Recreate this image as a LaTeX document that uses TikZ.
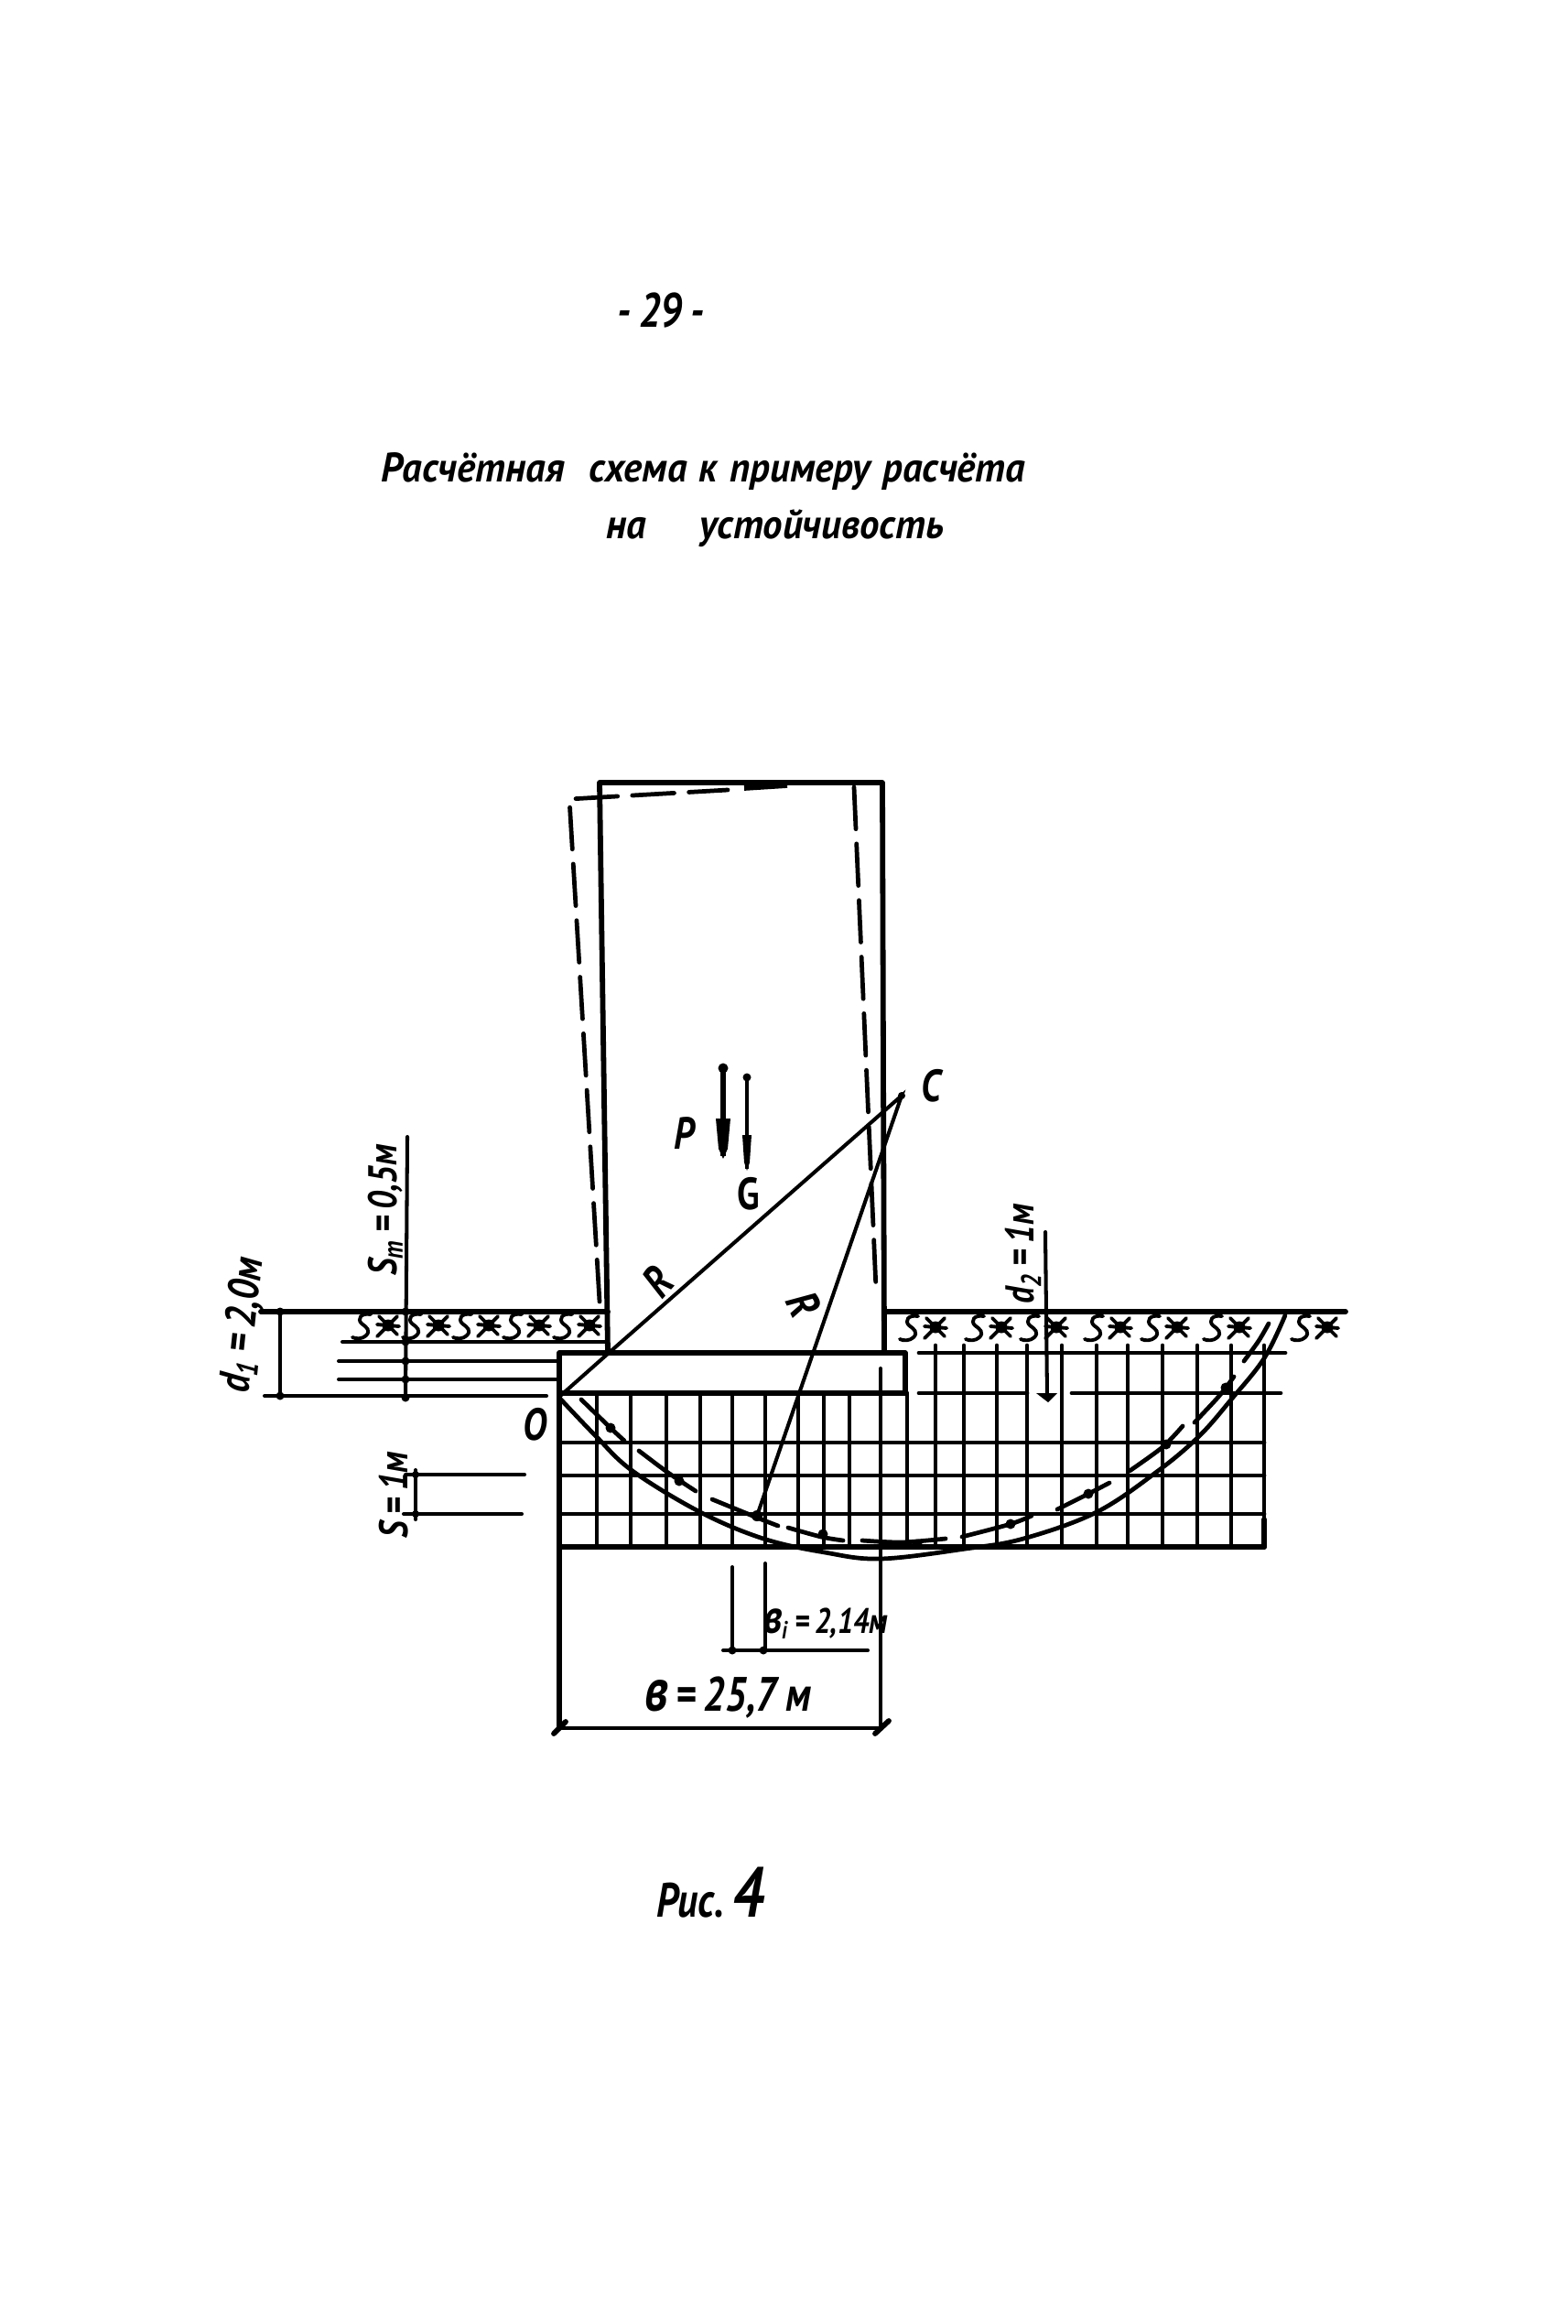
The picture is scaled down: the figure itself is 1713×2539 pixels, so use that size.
\documentclass[tikz,border=0pt]{standalone}
\usepackage{fontspec}
\setmainfont{PT Sans}
\newfontfamily\hand{PT Sans}[FakeStretch=0.82]
\newfontfamily\handwide{PT Sans}[FakeStretch=0.95]
\tikzset{
  x=0.01cm,y=-0.01cm,
  wall/.style={line width=1.65pt,line cap=round,line join=round},
  grid line/.style={line width=1.35pt,line cap=round},
  dim/.style={line width=1.15pt,line cap=round},
  moved/.style={line width=1.35pt,line cap=round,dash pattern=on 13pt off 4.6pt},
  slip/.style={line width=1.35pt,line cap=round},
  lbl/.style={font=\hand\bfseries\itshape\fontsize{12.5}{14}\selectfont,inner sep=0pt,text=black},
  title/.style={font=\handwide\bfseries\itshape\fontsize{12.8}{14}\selectfont,inner sep=0pt,anchor=base west},
  soil/.pic={
    \draw[line width=1.1pt,line cap=round] (13,-14) .. controls (2,-16) and (-2,-9) .. (3,-4) .. controls (9,0) and (13,4) .. (8,9) .. controls (4,13) and (-3,13) .. (-7,11);
    \fill (32,-2) circle (6.5);
    \draw[line width=1.1pt,line cap=round] (20,10) -- (42,-12) (22,-12) -- (42,8) (20,-3) -- (44,-1);
  }
}
\newcommand{\slipseg}[3]{\draw[slip] plot[smooth] coordinates {#1 #2 #3};}
\begin{document}
\begin{tikzpicture}
\useasboundingbox (0,0) rectangle (1713,2539);
\fill[white] (0,0) rectangle (1713,2539);
% named points
\coordinate (WTL) at (655,855); \coordinate (WTR) at (964,855);
\coordinate (WBL) at (664,1478); \coordinate (WBR) at (966,1478);
\coordinate (O) at (611,1526); \coordinate (F) at (664,1479);
\coordinate (C) at (985,1197); \coordinate (Q) at (827,1656);
\coordinate (FTL) at (611,1478); \coordinate (FTR) at (989,1478);
\coordinate (FBL) at (611,1522); \coordinate (FBR) at (989,1522);
% wall
\draw[wall] (WBL) -- (WTL) -- (WTR) -- (WBR);
\draw[line width=2.2pt] (813,860) -- (860,857);
% displaced wall
\draw[moved] (655,1422) -- (622,873) -- (795,863);
\draw[moved] (933,860) -- (957,1408);
% soil surface
\draw[wall] (285,1433) -- (664,1433);
\draw[wall] (966,1433) -- (1470,1433);
\draw[dim] (374,1466) -- (662,1466);
\foreach \p in {392,447,502,557,612} \pic at (\p,1450) {soil};
\foreach \p in {990,1062,1122,1192,1254,1322,1418} \pic at (\p,1452) {soil};
% footing
\draw[wall] (FBL) -- (FTL) -- (FTR) -- (FBR) -- cycle;
% grid
\foreach \x in {652,689,728,765,800,836,872,900,928}
  \draw[grid line] (\x,1522) -- (\x,1690);
\draw[grid line] (991,1522) -- (991,1690);
\foreach \x in {1022,1053,1089,1122,1160,1198,1232,1270,1308,1345,1381}
  \draw[grid line] (\x,1470) -- (\x,1690);
\foreach \y in {1576,1612,1654}
  \draw[grid line] (611,\y) -- (1381,\y);
\draw[wall] (611,1690) -- (1381,1690);
\draw[wall] (1381,1690) -- (1381,1660);
\draw[grid line] (1004,1478) -- (1404,1478);
\draw[grid line] (1004,1522) -- (1122,1522);
\draw[grid line] (1171,1522) -- (1399,1522);
% left dimension lines
\draw[dim] (306,1433) -- (306,1525);
\draw[dim] (289,1525) -- (597,1525);
\draw[dim] (370,1487) -- (611,1487);
\draw[dim] (370,1507) -- (611,1507);
\draw[dim] (445,1242) -- (443,1529);
\foreach \q in {(306,1433),(306,1525),(443,1433),(443,1466),(443,1487),(443,1507),(443,1527)} \fill \q circle (4.5);
% s = 1 m
\draw[dim] (443,1611) -- (573,1611);
\draw[dim] (441,1654) -- (570,1654);
\draw[dim] (454,1606) -- (454,1660);
\fill (454,1611) circle (4) (454,1654) circle (4);
% d2
\draw[dim] (1142,1346) -- (1144,1526);
\fill (1132,1522) -- (1155,1522) -- (1145,1532) -- cycle;
% width dimensions
\draw[dim] (962,1495) -- (962,1888);
\draw[wall] (611,1522) -- (611,1888);
\draw[dim] (611,1888) -- (962,1888);
\draw[wall] (605,1894) -- (618,1881);
\draw[wall] (956,1894) -- (971,1880);
\draw[dim] (800,1712) -- (800,1803);
\draw[dim] (836,1708) -- (836,1803);
\draw[dim] (790,1803) -- (948,1803);
\fill (800,1803) circle (4.5) (834,1803) circle (4.5);
% radii
\draw[dim] (O) -- (F) -- (C) -- (Q);
\fill (C) circle (4);
\fill (Q) circle (6);
% slip circle, solid
\draw[slip] plot[smooth,tension=0.6] coordinates {(611,1527) (651,1569) (691,1607) (765,1652) (834,1681) (901,1696) (962,1703) (1055,1692) (1118,1681) (1198,1652) (1265,1607) (1310,1569) (1345,1529) (1381,1484) (1404,1437)};
% slip circle, displaced (broken)
\slipseg{(635,1529)}{(667,1560)}{(682,1574)}
\slipseg{(698,1585)}{(730,1609)}{(760,1629)}
\slipseg{(778,1638)}{(827,1658)}{(850,1667)}
\slipseg{(861,1669)}{(897,1679)}{(921,1683)}
\slipseg{(942,1683)}{(985,1685)}{(1033,1681)}
\slipseg{(1051,1679)}{(1104,1665)}{(1127,1656)}
\slipseg{(1155,1649)}{(1189,1632)}{(1212,1620)}
\slipseg{(1234,1607)}{(1270,1581)}{(1292,1558)}
\slipseg{(1305,1554)}{(1332,1525)}{(1348,1504)}
\slipseg{(1359,1487)}{(1375,1465)}{(1386,1446)}
\foreach \q in {(667,1560),(742,1618),(899,1676),(1002,1687),(1104,1665),(1189,1632),(1274,1578),(1339,1516)} \fill \q circle (5.5);
% forces
\coordinate (Ps) at (790,1167); \coordinate (Pe) at (790,1263);
\coordinate (Gs) at (816,1177); \coordinate (Ge) at (816,1277);
\draw[line width=1.8pt] (Ps) -- (Pe);
\fill (Ps) circle (5.5);
\fill (782,1222) -- (798,1222) -- (795,1255) -- (790,1266) -- (785,1255) -- cycle;
\draw[line width=1.3pt] (Gs) -- (Ge);
\fill (Gs) circle (4.5);
\fill (811,1240) -- (821,1240) -- (819,1270) -- (816,1279) -- (813,1270) -- cycle;
% labels
\node[lbl] (page) at (722,339) {\fontsize{15}{17}\selectfont -\,29\,-};
\node[title] (t1) at (416,526) {Расчётная\hspace{0.6em}схема\hspace{0.3em}к\hspace{0.3em}примеру\hspace{0.3em}расчёта};
\node[title] (t2) at (662,588) {на\hspace{1.3em}устойчивость};
\node[lbl] (lP) at (748,1238) {\fontsize{14}{16}\selectfont P};
\node[lbl,font=\hand\bfseries\fontsize{14}{16}\selectfont] (lG) at (818,1304) {G};
\node[lbl] (lC) at (1017,1186) {\fontsize{14}{16}\selectfont C};
\node[lbl,rotate=48] (lR1) at (718,1400) {\fontsize{14}{16}\selectfont R};
\node[lbl,rotate=-65] (lR2) at (878,1425) {\fontsize{14}{16}\selectfont R};
\node[lbl] (lO) at (584,1556) {\fontsize{14}{16}\selectfont O};
\node[lbl,rotate=90] (lSm) at (421,1322) {S\textsubscript{m}\,=\,0,5м};
\node[lbl,rotate=84] (ld1) at (266,1448) {\fontsize{13.5}{15}\selectfont d\textsubscript{1}\,=\,2,0м};
\node[lbl,rotate=90] (ld2) at (1118,1370) {d\textsubscript{2}\,=\,1м};
\node[lbl,rotate=90] (lS) at (430,1633) {S\,=\,1м};
\node[lbl] (lb) at (902,1774) {{\fontsize{15}{17}\selectfont в}\fontsize{11}{13}\selectfont\textsubscript{i}\,=\,2,14м};
\node[lbl] (lB) at (795,1855) {{\fontsize{19}{19}\selectfont в}\fontsize{15}{17}\selectfont\,=\,25,7\,м};
\node[lbl] (fig) at (776,2068) {\fontsize{15}{19}\selectfont Рис.\,{\fontsize{22}{22}\selectfont 4}};
\end{tikzpicture}
\end{document}
